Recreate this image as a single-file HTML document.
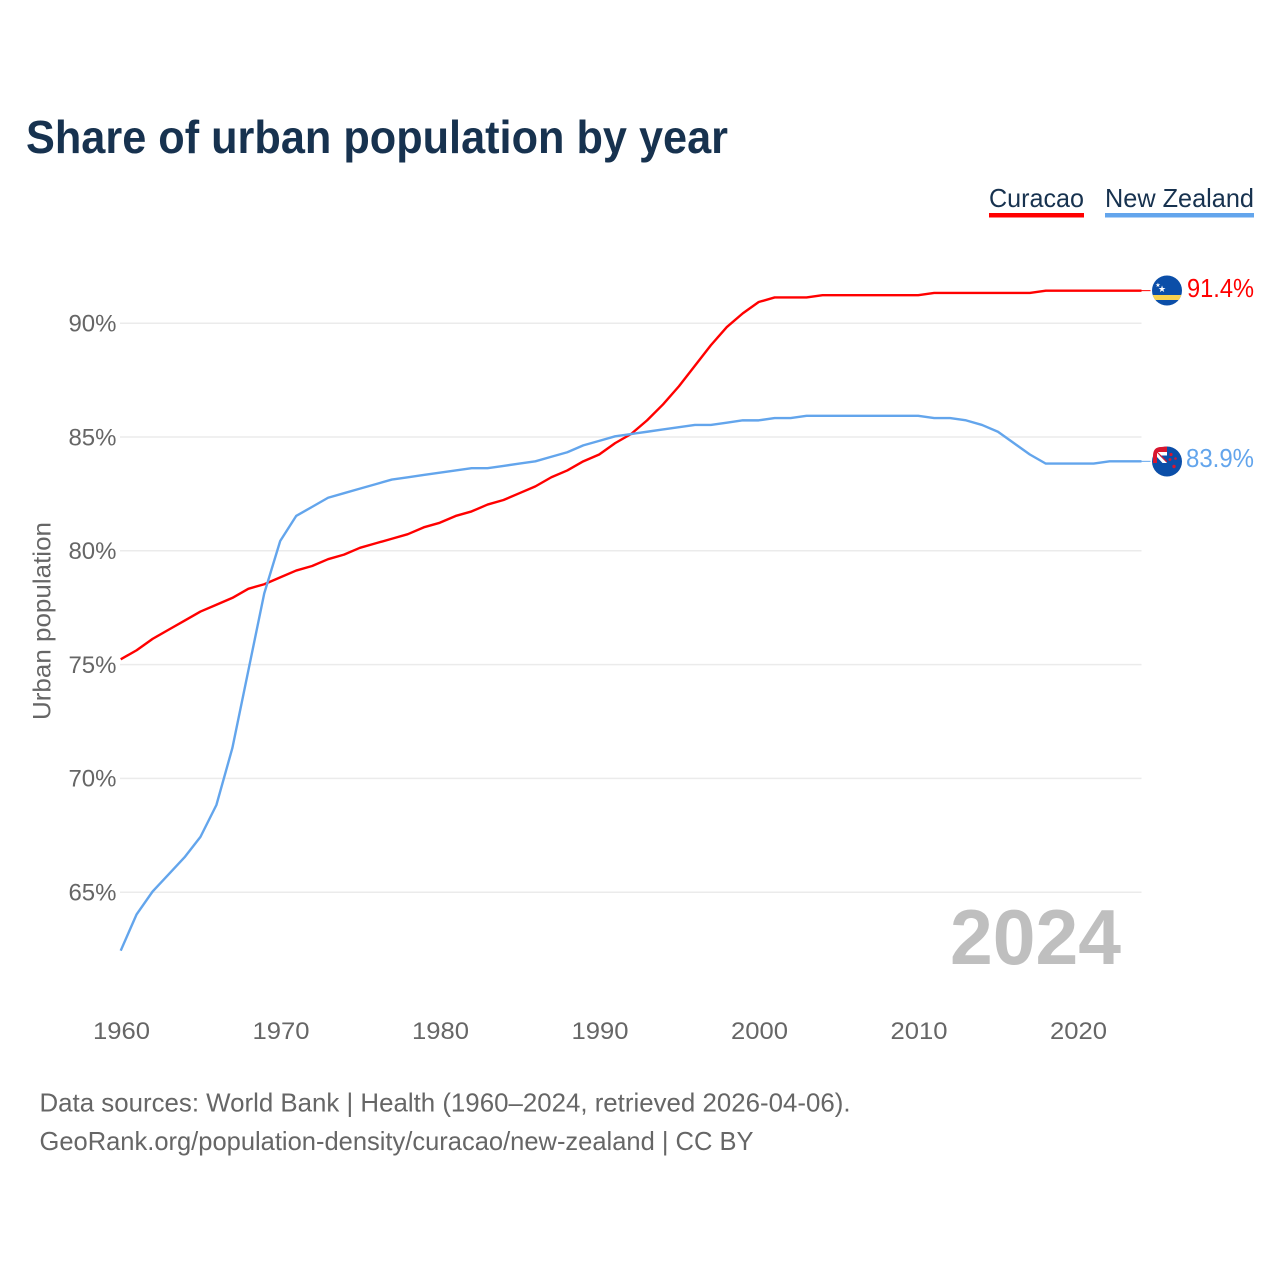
<!DOCTYPE html>
<html lang="en">
<head>
<meta charset="utf-8">
<title>Share of urban population by year</title>
<style>
html,body{margin:0;padding:0;background:#fff;}
svg{display:block;font-family:"Liberation Sans",sans-serif;}
</style>
</head>
<body>
<svg id="chart" xmlns="http://www.w3.org/2000/svg" width="1280" height="1280" viewBox="0 0 1280 1280">
  <defs>
    <clipPath id="flag-clip-cw"><circle cx="1167" cy="290.5" r="15"/></clipPath>
    <clipPath id="flag-clip-nz-canton"><path d="M1153 456 Q1153 447 1161 447 L1167 446.5 L1167 463 L1153 463 Z"/></clipPath>
  </defs>
  <rect width="1280" height="1280" fill="#ffffff"/>
  <text x="26" y="153" font-size="46" font-weight="700" fill="#17324f" textLength="702" lengthAdjust="spacingAndGlyphs">Share of urban population by year</text>

  <g>
    <g>
      <text x="989" y="207" font-size="26" fill="#17324f" textLength="95" lengthAdjust="spacingAndGlyphs">Curacao</text>
      <rect x="989" y="213" width="95" height="4.5" fill="#ff0000"/>
    </g>
    <g>
      <text x="1105" y="207" font-size="26" fill="#17324f" textLength="149" lengthAdjust="spacingAndGlyphs">New Zealand</text>
      <rect x="1105" y="213" width="149" height="4.5" fill="#63a5ec"/>
    </g>
  </g>

  <text transform="translate(50.5,720) rotate(-90)" font-size="25" fill="#666666" textLength="198" lengthAdjust="spacingAndGlyphs">Urban population</text>

  <g id="grid"></g>
  <g id="y-ticks"></g>
  <g id="x-ticks"></g>

  <text x="950" y="964" font-size="78" font-weight="700" fill="#bfbfbf" textLength="171" lengthAdjust="spacingAndGlyphs">2024</text>

  <g id="series"></g>

  <g>
    <g clip-path="url(#flag-clip-cw)">
      <rect x="1150" y="273" width="34" height="36" fill="#0b4ea8"/>
      <rect x="1150" y="295" width="34" height="5" fill="#f9d24f"/>
    </g>
    <text x="1162" y="292" font-size="9" fill="#ffffff" text-anchor="middle">★</text>
    <text x="1158" y="287" font-size="6" fill="#ffffff" text-anchor="middle">★</text>
  </g>

  <g>
    <circle cx="1167" cy="461.5" r="15" fill="#0b4ea8"/>
    <g clip-path="url(#flag-clip-nz-canton)">
      <rect x="1152" y="446" width="16" height="18" fill="#d8162f"/>
      <rect x="1157" y="452" width="10" height="11" fill="#ffffff"/>
      <path d="M1159.5 455.5 L1167 455.5 L1167 463 Z" fill="#0b4ea8"/>
      <path d="M1157 457 L1162.5 463 L1157 463 Z" fill="#0b4ea8"/>
      <path d="M1157 452 L1167 462" stroke="#d8162f" stroke-width="1.2" fill="none"/>
    </g>
    <g fill="#d8162f">
      <circle cx="1171" cy="454.5" r="1.6"/>
      <circle cx="1175.5" cy="458.5" r="1.3"/>
      <circle cx="1170" cy="459.5" r="1.4"/>
      <circle cx="1174" cy="466.5" r="1.7"/>
    </g>
  </g>

  <text id="value-curacao" x="1187" y="297" font-size="26" fill="#ff0000" textLength="67" lengthAdjust="spacingAndGlyphs"></text>
  <text id="value-nz" x="1186" y="467" font-size="26" fill="#63a5ec" textLength="68" lengthAdjust="spacingAndGlyphs"></text>

  <g font-size="26" fill="#666666">
    <text x="39.5" y="1111.5" textLength="811" lengthAdjust="spacingAndGlyphs">Data sources: World Bank | Health (1960–2024, retrieved 2026-04-06).</text>
    <text x="39.5" y="1150" textLength="714" lengthAdjust="spacingAndGlyphs">GeoRank.org/population-density/curacao/new-zealand | CC BY</text>
  </g>
</svg>
<script>
const years = [1960,1961,1962,1963,1964,1965,1966,1967,1968,1969,1970,1971,1972,1973,1974,1975,1976,1977,1978,1979,1980,1981,1982,1983,1984,1985,1986,1987,1988,1989,1990,1991,1992,1993,1994,1995,1996,1997,1998,1999,2000,2001,2002,2003,2004,2005,2006,2007,2008,2009,2010,2011,2012,2013,2014,2015,2016,2017,2018,2019,2020,2021,2022,2023,2024];
const curacaoValues = [75.2,75.6,76.1,76.5,76.9,77.3,77.6,77.9,78.3,78.5,78.8,79.1,79.3,79.6,79.8,80.1,80.3,80.5,80.7,81.0,81.2,81.5,81.7,82.0,82.2,82.5,82.8,83.2,83.5,83.9,84.2,84.7,85.1,85.7,86.4,87.2,88.1,89.0,89.8,90.4,90.9,91.1,91.1,91.1,91.2,91.2,91.2,91.2,91.2,91.2,91.2,91.3,91.3,91.3,91.3,91.3,91.3,91.3,91.4,91.4,91.4,91.4,91.4,91.4,91.4];
const newZealandValues = [62.4,64.0,65.0,65.75,66.5,67.4,68.8,71.3,74.7,78.1,80.4,81.5,81.9,82.3,82.5,82.7,82.9,83.1,83.2,83.3,83.4,83.5,83.6,83.6,83.7,83.8,83.9,84.1,84.3,84.6,84.8,85.0,85.1,85.2,85.3,85.4,85.5,85.5,85.6,85.7,85.7,85.8,85.8,85.9,85.9,85.9,85.9,85.9,85.9,85.9,85.9,85.8,85.8,85.7,85.5,85.2,84.7,84.2,83.8,83.8,83.8,83.8,83.9,83.9,83.9];
const yTickValues = [65,70,75,80,85,90];
const xTickValues = [1960,1970,1980,1990,2000,2010,2020];

const NS = 'http://www.w3.org/2000/svg';
const xScale = function (year) { return 120.7 + (year - 1960) * 15.95; };
const yScale = function (value) { return 323.2 + (90 - value) * 22.76; };
const seriesY = function (value) { return yScale(value) - 0.7; };
const make = function (tag, attrs, parent) {
  const el = document.createElementNS(NS, tag);
  Object.keys(attrs).forEach(function (k) { el.setAttribute(k, attrs[k]); });
  parent.appendChild(el);
  return el;
};

const grid = document.getElementById('grid');
const yTicks = document.getElementById('y-ticks');
const xTicks = document.getElementById('x-ticks');
const series = document.getElementById('series');

yTickValues.forEach(function (v) {
  const line = make('line', {x1: 120, x2: xScale(2024), y1: yScale(v), y2: yScale(v), stroke: '#ebebeb', 'stroke-width': 1.5}, grid);
  
  
  const label = make('text', {x: 116.5, y: yScale(v) + 8.3, 'text-anchor': 'end', 'font-size': 24, fill: '#666666'}, yTicks);
  label.textContent = v + '%';
  
  
});

xTickValues.forEach(function (y) {
  const label = make('text', {x: xScale(y) - 27.7, y: 1039, 'font-size': 24, fill: '#666666', textLength: 57, lengthAdjust: 'spacingAndGlyphs'}, xTicks);
  label.textContent = String(y);
  
  
});

const drawSeries = function (values, color, slug) {
  const pts = values.map(function (v, i) { return xScale(years[i]).toFixed(2) + ',' + seriesY(v).toFixed(2); }).join(' ');
  const line = make('polyline', {points: pts, fill: 'none', stroke: color, 'stroke-width': 2.4, 'stroke-linejoin': 'round'}, series);
  
  
  const last = values[values.length - 1];
  const lastX = xScale(years[years.length - 1]);
  const lead = make('line', {x1: lastX, x2: lastX + 9, y1: seriesY(last), y2: seriesY(last), stroke: color, 'stroke-width': 1}, series);
  
  
};
drawSeries(curacaoValues, '#ff0000', 'curacao');
drawSeries(newZealandValues, '#63a5ec', 'new-zealand');

document.getElementById('value-curacao').textContent = curacaoValues[curacaoValues.length - 1].toFixed(1) + '%';
document.getElementById('value-nz').textContent = newZealandValues[newZealandValues.length - 1].toFixed(1) + '%';
</script>
</body>
</html>
